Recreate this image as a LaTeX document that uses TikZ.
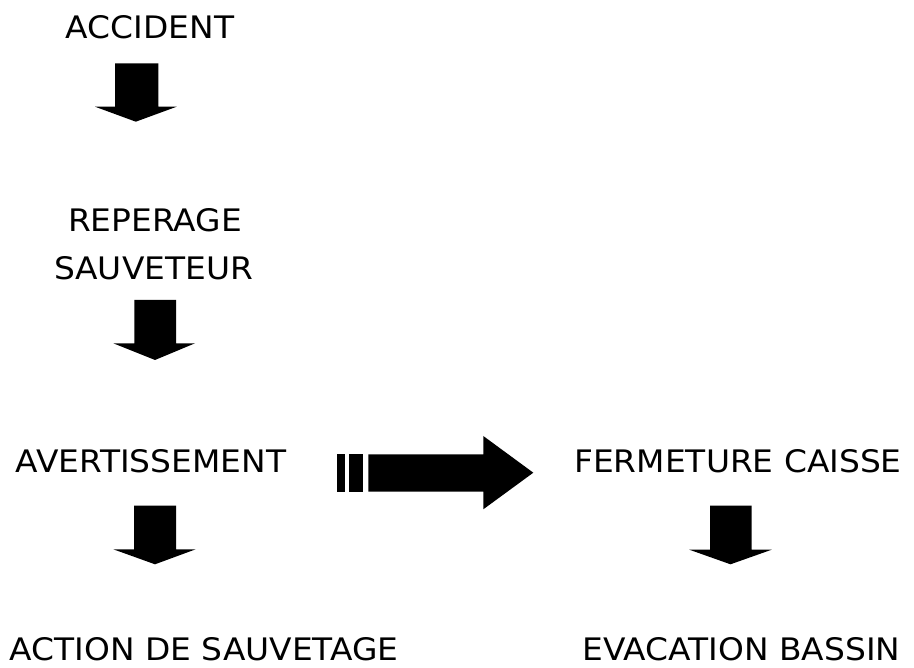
\documentclass[tikz,border=0pt]{standalone}
\usepackage{fontspec}
\setmainfont{DejaVu Sans}[FakeStretch=1.06]
\begin{document}
\begin{tikzpicture}[x=1pt,y=-1pt,
  lbl/.style={anchor=base,inner sep=0pt,text depth=0pt,font=\fontsize{31}{36}\selectfont},
  blk/.style={fill=black,draw=none}]
\useasboundingbox (0,0) rectangle (914,668);
% texts
\node[lbl] (acc) at (150,38.5) {ACCIDENT};
\node[lbl] (rep) at (155,231.7) {REPERAGE};
\node[lbl] (sau) at (153.5,280) {SAUVETEUR};
\node[lbl] (ave) at (151,472.5) {AVERTISSEMENT};
\node[lbl] (fer) at (738,473) {FERMETURE CAISSE};
\node[lbl] (act) at (204,660) {ACTION DE SAUVETAGE};
\node[lbl] (eva) at (741.5,660) {EVACATION BASSIN};
% down block arrows
\fill[blk] (115,63.3) -- (158.3,63.3) -- (158.3,106.7) -- (176.7,106.7) -- (135.8,121.7) -- (95,106.7) -- (115,106.7) -- cycle;
\fill[blk] (134.3,300) -- (176,300) -- (176,343.3) -- (195,343.3) -- (155,360) -- (113.3,343.3) -- (134.3,343.3) -- cycle;
\fill[blk] (134,505.7) -- (176,505.7) -- (176,549.3) -- (195.7,549.3) -- (155,564.3) -- (113.3,549.3) -- (134,549.3) -- cycle;
\fill[blk] (710,505.7) -- (751.7,505.7) -- (751.7,549.7) -- (771.7,549.7) -- (730.5,564.3) -- (689.3,549.7) -- (710,549.7) -- cycle;
% big striped right arrow
\fill[blk] (337.3,454.3) rectangle (345,491.7);
\fill[blk] (349.3,454.3) rectangle (362.7,491.7);
\fill[blk] (368.3,454.3) -- (483.3,454.3) -- (483.3,436) -- (533.3,472.7) -- (483.3,509.3) -- (483.3,491.7) -- (368.3,491.7) -- cycle;
\end{tikzpicture}
\end{document}
